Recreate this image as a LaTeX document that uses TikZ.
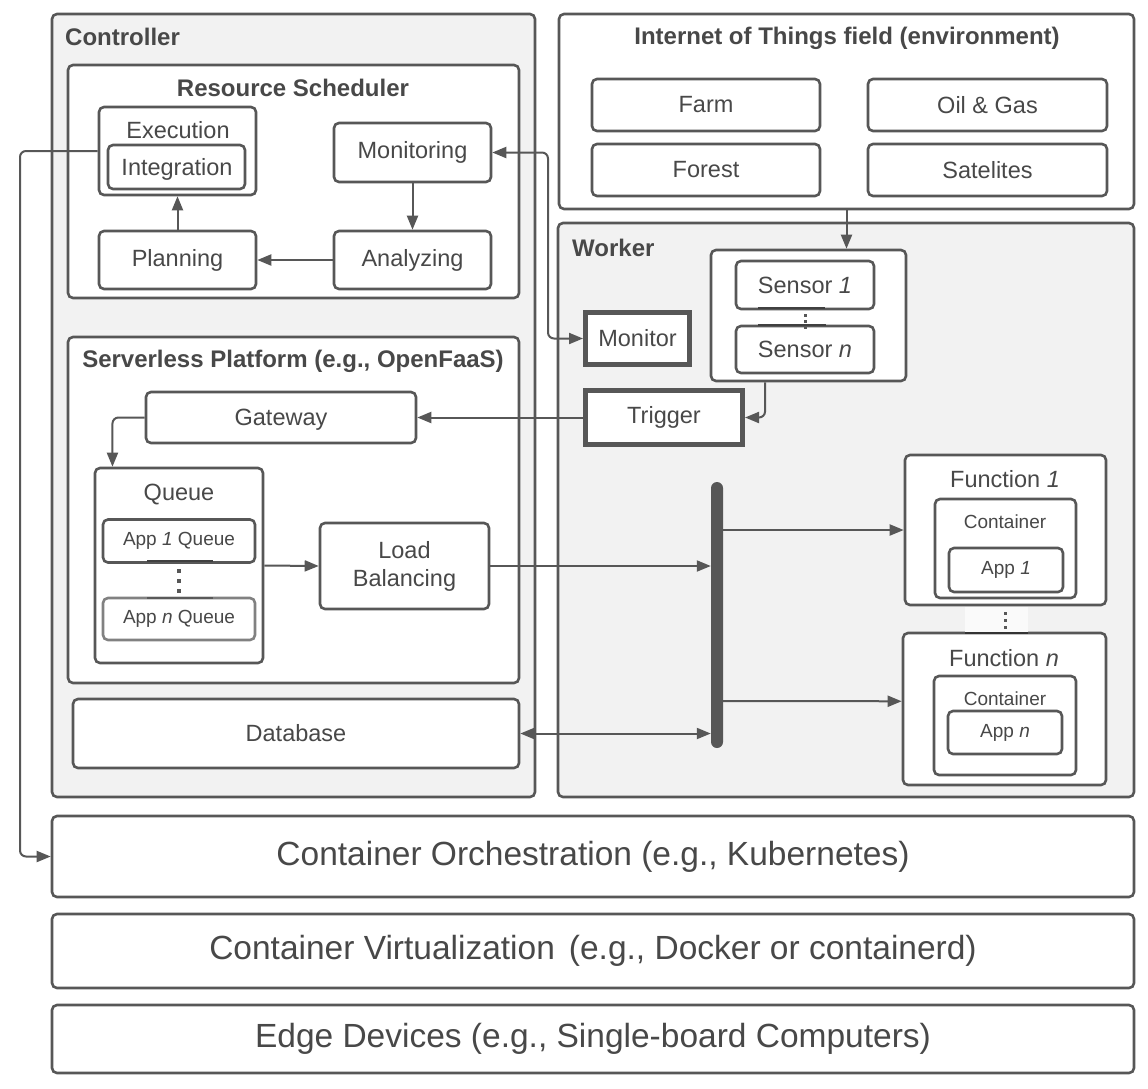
\documentclass[tikz,border=0pt]{standalone}
\usepackage{fontspec}
\setmainfont{Liberation Sans}
\usetikzlibrary{
    arrows.meta,
    positioning,
    calc
}
\definecolor{linegray}{HTML}{575757}
\definecolor{textgray}{HTML}{484848}
\definecolor{panelgray}{HTML}{F2F2F2}

\begin{document}
\begin{tikzpicture}[x=1pt, y=-1pt,
        box/.style={draw=linegray, line width=2.6pt, rounded corners=5pt, fill=white, text=textgray, inner sep=0pt, font=\fontsize{23.5}{28}\selectfont},
        panel/.style={box, fill=panelgray},
        thickbox/.style={box, line width=5pt, rounded corners=0pt},
        title/.style={text=textgray, inner sep=0pt, font=\bfseries\fontsize{24}{28}\selectfont},
        lbl/.style={text=textgray, inner sep=0pt, font=\fontsize{23.5}{28}\selectfont},
        small/.style={font=\fontsize{19}{23}\selectfont},
        big/.style={font=\fontsize{33.5}{40}\selectfont},
        busbar/.style={draw=none, fill=linegray, rounded corners=6pt, minimum width=12pt, inner sep=0pt},
        arr/.style={draw=linegray, line width=2pt, rounded corners=6pt, -{Triangle[length=14pt,width=11pt]}},
        darr/.style={arr, {Triangle[length=14pt,width=11pt]}-{Triangle[length=14pt,width=11pt]}}
    ]
        \useasboundingbox (0,0) rectangle (1148,1088);

        % Panels
        \node[panel, minimum width=483pt, minimum height=783pt] (controller) at (293.5,405.5) {};
        \node[panel, minimum width=576pt, minimum height=574pt] (worker) at (846,510) {};
        \node[box, minimum width=575pt, minimum height=195pt] (iot) at (846.5,111.5) {};
        \node[title, anchor=west] (controllertitle) at (65,37) {Controller};
        \node[title, anchor=west] (workertitle) at (572,248) {Worker};
        \node[title] (iottitle) at (847,38) {Internet of Things field (environment)};

        % Internet of Things field
        \node[box, minimum width=228pt, minimum height=52pt] (farm) at (706,105) {Farm};
        \node[box, minimum width=239pt, minimum height=52pt] (oilgas) at (987.5,105) {Oil \& Gas};
        \node[box, minimum width=228pt, minimum height=52pt] (forest) at (706,170) {Forest};
        \node[box, minimum width=239pt, minimum height=52pt] (satelites) at (987.5,170) {Satelites};

        % Resource Scheduler
        \node[box, minimum width=451pt, minimum height=233pt] (scheduler) at (293.5,181.5) {};
        \node[title] (schedulertitle) at (293,88) {Resource Scheduler};
        \node[box, minimum width=157pt, minimum height=88pt] (execution) at (177.5,151) {};
        \node[lbl] (executiontitle) at (178,130) {Execution};
        \node[box, minimum width=137pt, minimum height=44pt] (integration) at (176.5,167) {};
        \node[lbl] (integrationtext) at (177,169) {Integration};
        \node[box, minimum width=157pt, minimum height=59pt] (monitoring) at (412.5,152.5) {Monitoring};
        \node[box, minimum width=157pt, minimum height=58pt] (planning) at (177.5,260) {Planning};
        \node[box, minimum width=157pt, minimum height=58pt] (analyzing) at (412.5,260) {Analyzing};

        % Serverless Platform
        \node[box, minimum width=451pt, minimum height=346pt] (serverless) at (293.5,510) {};
        \node[title] (serverlesstitle) at (293,361) {Serverless Platform (e.g., OpenFaaS)};
        \node[box, minimum width=270pt, minimum height=51pt] (gateway) at (281,417.5) {};
        \node[lbl] (gatewaytext) at (281,420) {Gateway};
        \node[box, minimum width=168pt, minimum height=195pt] (queue) at (179,565.5) {};
        \node[lbl] (queuetitle) at (179,495) {Queue};
        \node[box, small, minimum width=152pt, minimum height=43pt] (appqone) at (179,541) {App \textit{1} Queue};
        \node[box, small, draw=linegray!75, minimum width=152pt, minimum height=42pt] (appqn) at (179,619) {App \textit{n} Queue};
        \node[box, align=center, minimum width=169pt, minimum height=86pt] (balancing) at (404.5,566) {Load\\Balancing};
        \node[box, minimum width=446pt, minimum height=69pt] (database) at (296,733.5) {Database};

        % Worker
        \node[box, minimum width=195pt, minimum height=131pt] (sensors) at (808.5,315.5) {};
        \node[box, minimum width=138pt, minimum height=48pt] (sensorone) at (805,285) {Sensor \textit{1}};
        \node[box, minimum width=138pt, minimum height=47pt] (sensorn) at (805,349.5) {Sensor \textit{n}};
        \node[thickbox, minimum width=104pt, minimum height=52pt] (monitor) at (637.5,338.5) {Monitor};
        \node[thickbox, minimum width=157pt, minimum height=54pt] (trigger) at (664,417.5) {Trigger};
        \node[busbar, minimum height=266pt] (bus) at (717,615) {};

        % Functions
        \node[box, minimum width=201pt, minimum height=150pt] (funcone) at (1005.5,530) {};
        \node[lbl] (funconetitle) at (1005,479) {Function \textit{1}};
        \node[box, minimum width=141pt, minimum height=99pt] (contone) at (1005.5,548.5) {};
        \node[lbl, small] (contonetitle) at (1005,522) {Container};
        \node[box, small, minimum width=114pt, minimum height=44pt] (appone) at (1006,570) {App \textit{1}};
        \node[box, minimum width=203pt, minimum height=152pt] (funcn) at (1004.5,709) {};
        \node[lbl] (funcntitle) at (1004,658) {Function \textit{n}};
        \node[box, minimum width=142pt, minimum height=99pt] (contn) at (1005,725.5) {};
        \node[lbl, small] (contntitle) at (1005,699) {Container};
        \node[box, small, minimum width=114pt, minimum height=43pt] (appn) at (1005,732.5) {App \textit{n}};

        % Dots
        \draw[line width=2.5pt, draw=black!75] (147,561) -- (213,561);
        \draw[line width=2.5pt, draw=black!65] (147,598) -- (213,598);
        \draw[line width=2.5pt, draw=black!75] (758,308) -- (825,308);
        \draw[line width=2.5pt, draw=black!75] (758,325) -- (826,325);
        \fill[white!60!panelgray] (965,607) rectangle (1028,633);
        \draw[line width=2.5pt, draw=black!80] (965,633) -- (1028,633);
        \foreach \y in {569,579,589} \fill[linegray] (177,\y) rectangle ++(4,4);
        \foreach \y in {314,320,326} \fill[linegray] (804,\y) rectangle ++(3,3);
        \foreach \y in {612,619,626} \fill[linegray] (1004,\y) rectangle ++(3,3);

        % Layers
        \node[box, big, minimum width=1082pt, minimum height=81pt] (orch) at (593,856.5) {Container Orchestration (e.g., Kubernetes)};
        \node[box, big, minimum width=1082pt, minimum height=74pt] (virt) at (593,951) {Container Virtualization\hspace{14pt}(e.g., Docker or containerd)};
        \node[box, big, minimum width=1082pt, minimum height=68pt] (edge) at (593,1039) {Edge Devices (e.g., Single-board Computers)};

        % Connectors
        \coordinate (orchbend) at (20,500);
        \coordinate (monbend) at (548,250);
        \draw[arr] (monitoring) -- (analyzing);
        \draw[arr] (analyzing) -- (planning);
        \draw[arr] (planning) -- (execution);
        \draw[arr] (execution.west) -| (orchbend) |- (orch.west);
        \draw[darr] (monitoring.east) -| (monbend) |- (monitor.west);
        \draw[arr] (iot.south) -- (iot.south |- sensors.north);
        \draw[arr] ($(sensors.south west)!0.28!(sensors.south east)$) |- (trigger.east);
        \draw[arr] (trigger.west) -- (gateway.east);
        \draw[arr] (gateway.west) -| ($(queue.north west)!0.11!(queue.north east)$);
        \draw[arr] (queue.east) -- (balancing.west);
        \draw[arr] (balancing.east) -- (balancing.east -| bus.west);
        \draw[darr] (database.east) -- (database.east -| bus.west);
        \draw[arr] (bus.east |- funcone.west) -- (funcone.west);
        \draw[arr] (bus.east |- 0,701) -- ($(funcn.north west)!0.45!(funcn.south west)$);
    \end{tikzpicture}
\end{document}
